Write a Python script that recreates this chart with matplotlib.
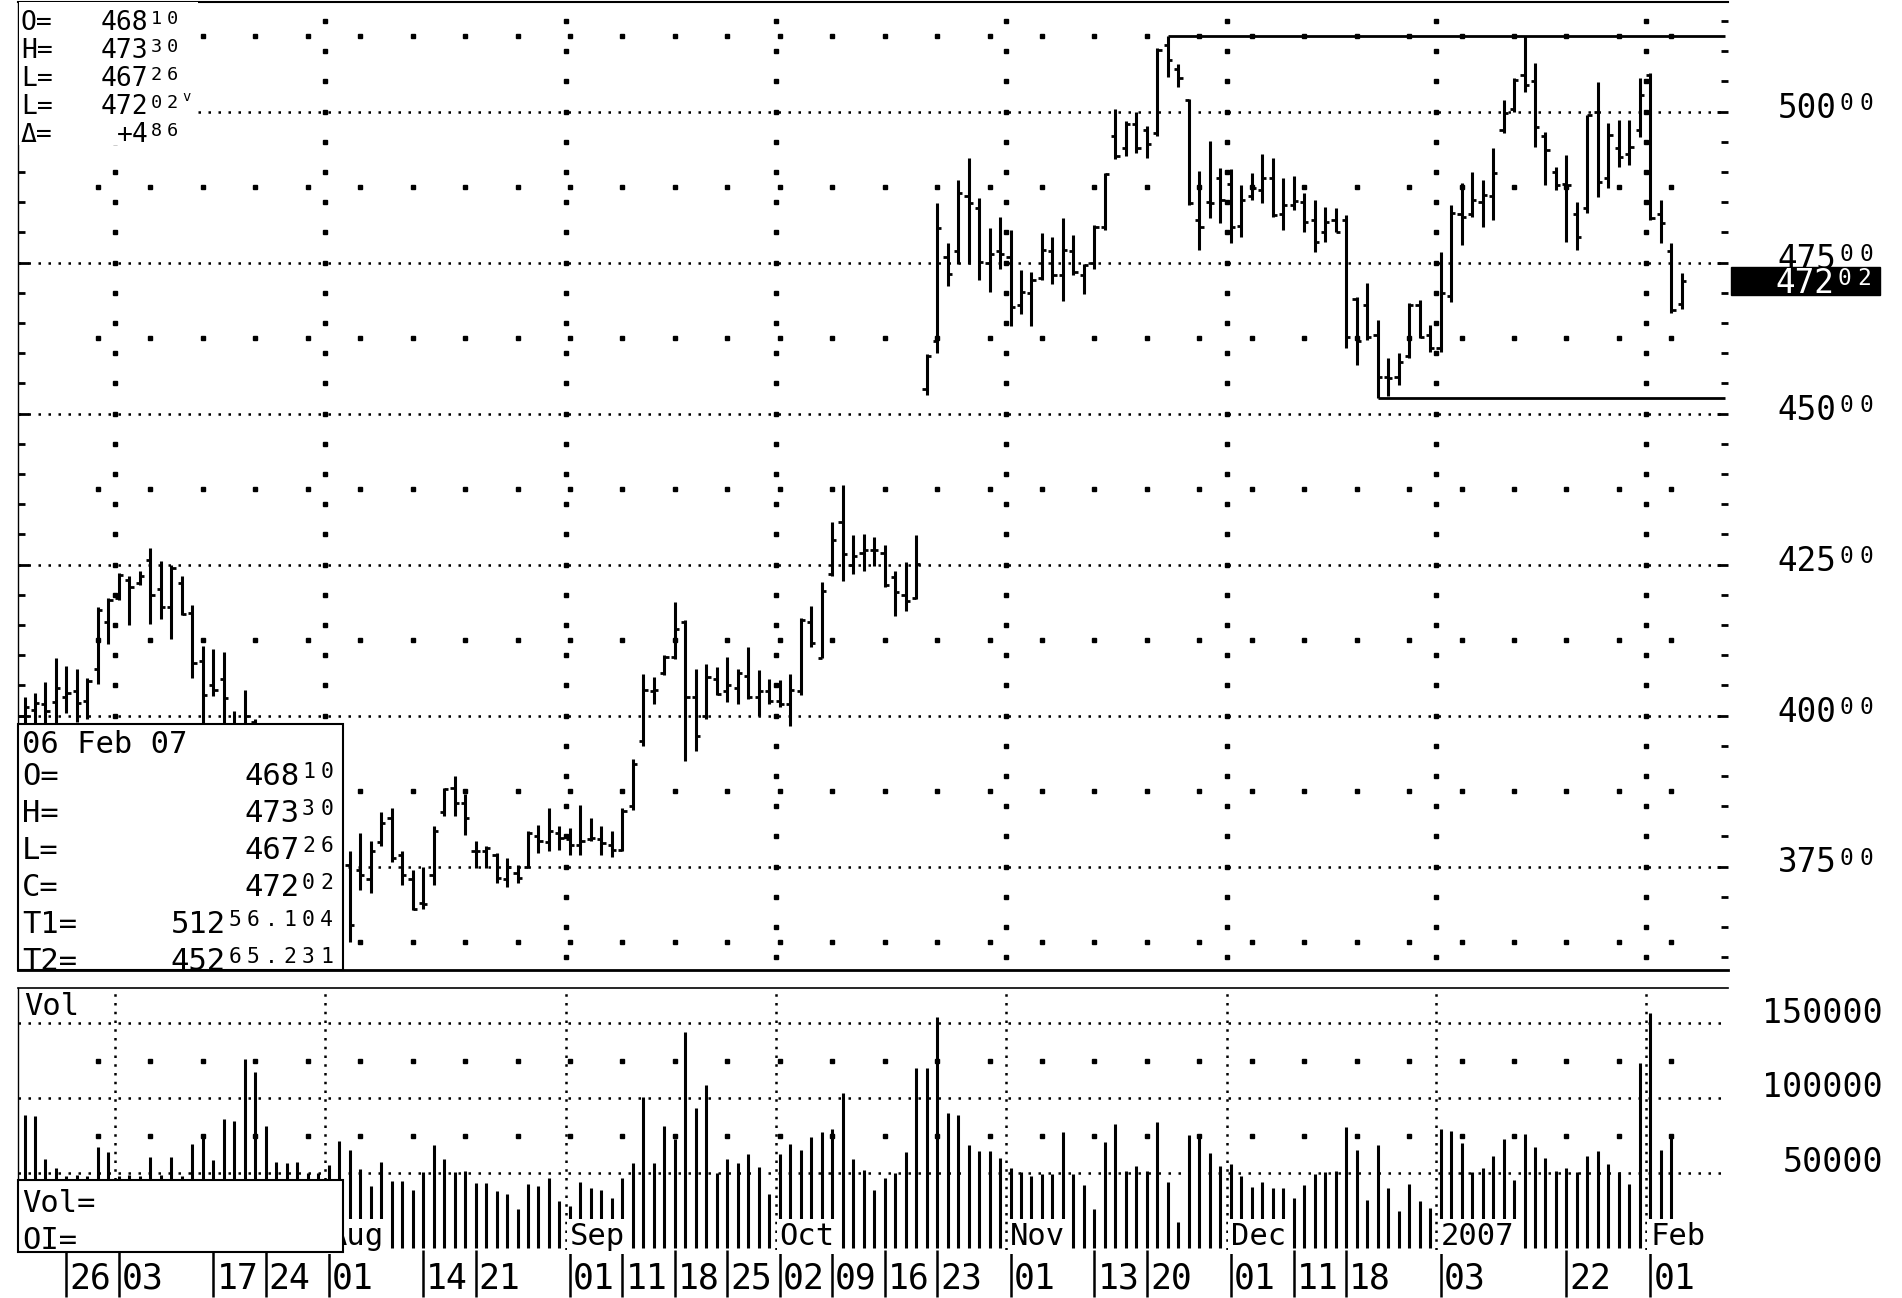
import numpy as np
import pandas as pd
import matplotlib
matplotlib.use("Agg")
import matplotlib.pyplot as plt
from matplotlib.patches import Rectangle
from matplotlib.ticker import MultipleLocator
from matplotlib.transforms import IdentityTransform

W, H = 1902, 1298
MONO = "DejaVu Sans Mono"
plt.rcParams["font.family"] = [MONO, "DejaVu Sans"]

# trading calendar of the chart (Jun 20 2006 .. Feb 6 2007)
holidays = ["2006-07-04", "2006-09-04", "2006-11-23", "2006-12-25",
            "2007-01-01", "2007-01-02", "2007-01-15"]

opens = [40000, 40100, 40200, 40230,
         40300, 40400, 40250, 40767, 41550, 41950, 42250, 42200, 42584, 42100,
         41800, 42200, 41700, 40900, 40500, 40600, 39700, 39700, 39900, 39400,
         39100, 38800, 38400, 38500, 38300, 37900, 37700, 37528, 37450, 37300,
         37900, 38300, 37700, 37300, 36900, 37361, 38400, 38800, 38550, 37750,
         37750, 37700, 37300, 37400, 37500, 38000, 37900, 38050, 37950, 37850,
         37950, 37950, 37850, 37778, 38500, 39583, 40400, 40700, 40972, 41550,
         40300, 40000, 40600, 40400, 40450, 40650, 40300, 40400, 40250, 40200,
         40400, 41550, 40949, 42350, 43209, 42500, 42700, 42750, 42700, 42300,
         42000, 41950, 45400, 46203, 47600, 47700, 48600, 48400, 47500, 47700,
         47600, 46800, 47000, 47250, 47700, 47300, 47700, 47300, 47500, 48096,
         49600, 49400, 49800, 49700, 49650, 51100, 50700, 50200, 48200, 48500,
         48900, 48800, 48100, 48600, 48700, 48900, 48300, 48450, 48500, 48200,
         48000, 48200, 48200, 46900, 46800, 46300, 45600, 45600, 45950, 46800,
         46300, 46081, 46950, 48300, 48300, 48500, 48600, 49700, 50050, 50600,
         50500, 49600, 49000, 48800, 48300, 48400, 50000, 48900, 49400, 49300,
         49700, 50600, 48300, 47700, 46810]

highs = [40300, 40376, 40555, 40946,
         40823, 40778, 40627, 41801, 41941, 42360, 42304, 42388, 42780, 42556,
         42500, 42304, 41829, 41158, 41102, 41058, 40070, 40432, 39950, 39600,
         39300, 39000, 38700, 38800, 38500, 38200, 37950, 37750, 38055, 37917,
         38405, 38472, 37761, 37444, 37500, 38167, 38806, 39000, 38694, 37917,
         37833, 37722, 37639, 37528, 38083, 38194, 38472, 38167, 38139, 38528,
         38305, 38167, 38083, 38472, 39278, 40694, 40639, 41000, 41889, 41583,
         40778, 40861, 40805, 40972, 40778, 41139, 40750, 40611, 40583, 40694,
         41611, 41814, 42204, 43209, 43822, 42985, 43013, 42957, 42818, 42400,
         42539, 42985, 45980, 48486, 47817, 48875, 49237, 48569, 48068, 48263,
         48040, 47372, 47344, 47984, 47929, 48235, 47957, 47483, 48124, 48987,
         50045, 49850, 49989, 49766, 51047, 51256, 50796, 50212, 49014, 49516,
         49070, 49042, 48792, 48987, 49293, 49237, 48903, 48931, 48648, 48537,
         48427, 48399, 48289, 46936, 47157, 46550, 45915, 45998, 46826, 46881,
         46467, 47682, 48454, 48813, 49006, 48868, 49404, 50193, 50552, 51256,
         50800, 49669, 49089, 49282, 48510, 49945, 50497, 49807, 49862, 49862,
         50552, 50635, 48537, 47820, 47330]

lows = [39700, 39800, 39750, 39850,
        40040, 39900, 39950, 40516, 41186, 41913, 41505, 42165, 41522, 41606,
        41270, 41661, 40627, 39700, 40320, 39600, 39300, 39400, 39300, 38900,
        38600, 38200, 37900, 38100, 37700, 37500, 37300, 36250, 37111, 37056,
        37833, 37583, 37195, 36778, 36806, 37194, 38333, 38333, 38028, 37472,
        37472, 37222, 37167, 37222, 37472, 37722, 37750, 37778, 37694, 37694,
        37917, 37694, 37667, 37750, 38444, 39500, 40194, 40667, 40944, 39250,
        39417, 39944, 40333, 40222, 40194, 40278, 40000, 40194, 40139, 39833,
        40333, 41144, 40949, 42316, 42232, 42344, 42400, 42483, 42121, 41646,
        41730, 41925, 45312, 46008, 47121, 47483, 47483, 47205, 47010, 47400,
        46453, 46648, 46453, 47205, 47149, 46871, 47288, 46982, 47400, 48040,
        49209, 49265, 49321, 49237, 49599, 50574, 50406, 48458, 47706, 48235,
        48152, 47817, 47929, 48541, 48486, 48263, 48040, 48374, 48013, 47682,
        47847, 48013, 46081, 45805, 46219, 45265, 45290, 45474, 45915, 46246,
        46026, 46026, 46854, 47792, 48261, 48096, 48206, 49641, 50000, 50331,
        49420, 48786, 48703, 47847, 47709, 48316, 48592, 48730, 49089, 49117,
        49586, 48206, 47820, 46660, 46726]

closes = [40150, 40208, 40068, 40454,
          40376, 40208, 40571, 41745, 41913, 42332, 42137, 42304, 41997, 41801,
          42444, 41689, 40879, 40348, 40432, 40292, 39500, 40000, 39400, 39100,
          38800, 38400, 38500, 38300, 37900, 37700, 37600, 36528, 37361, 37750,
          38222, 37639, 37361, 36806, 36889, 38083, 38778, 38555, 38305, 37750,
          37806, 37305, 37500, 37305, 38055, 37917, 38083, 37972, 37861, 37917,
          37972, 37889, 37778, 38417, 39194, 40417, 40417, 40972, 41434, 40307,
          39665, 40631, 40350, 40500, 40700, 40300, 40400, 40250, 40200, 40420,
          41580, 41200, 42070, 42900, 42680, 42650, 42734, 42734, 42160, 42044,
          41900, 42507, 45952, 48068, 47316, 48653, 48486, 47511, 47650, 47650,
          46759, 47010, 47205, 47706, 47288, 47706, 47344, 47455, 48096, 48959,
          49260, 49800, 49400, 49460, 51020, 50851, 50550, 48486, 48090, 48486,
          48541, 48096, 48541, 48736, 48903, 48291, 48458, 48514, 48180, 47847,
          48180, 48013, 46274, 46200, 46274, 45610, 45584, 45860, 46798, 46274,
          46081, 46992, 48316, 48261, 48537, 48620, 48979, 49972, 50524, 50441,
          49751, 49365, 48784, 48784, 47930, 49945, 48842, 49613, 49255, 49420,
          50276, 48234, 48150, 46716, 47202]

volumes = [89100, 88000, 59800, 53300,
           48000, 48500, 48000, 67400, 64100, 48000, 48500, 48000, 60900, 48500,
           60900, 48000, 69600, 76100, 58700, 85900, 84800, 126100, 117400, 81500,
           57600, 56500, 57600, 50000, 50000, 55400, 71700, 65200, 52600, 41300,
           57600, 44600, 44600, 39100, 51100, 68500, 59800, 51100, 51700, 43500,
           43500, 38000, 35900, 26100, 43000, 41300, 46700, 31500, 28300, 43900,
           40200, 39100, 33700, 46700, 56500, 101100, 56500, 81500, 72800, 144600,
           93500, 109100, 50000, 59800, 56500, 63000, 54300, 35900, 63000, 69600,
           65200, 73900, 77200, 79400, 103300, 59800, 52200, 39100, 46700, 50000,
           64100, 120000, 120000, 154400, 90200, 89200, 68800, 64500, 64500, 60200,
           53750, 50500, 48400, 49500, 49500, 77400, 49500, 41900, 25800, 71000,
           82800, 51600, 54800, 51600, 83900, 44100, 17200, 75300, 76300, 63400,
           54800, 55900, 48400, 40900, 44100, 39800, 39800, 33300, 41900, 49500,
           50500, 51600, 80600, 65600, 32300, 68800, 39800, 24700, 43000, 31200,
           26900, 79600, 78500, 69900, 50500, 53750, 61300, 73100, 45150, 76300,
           67700, 60200, 51600, 53750, 50500, 61300, 64500, 55900, 50500, 43000,
           123600, 157000, 65600, 74200, 0]

label_days = ["2006-06-26", "2006-07-03", "2006-07-17", "2006-07-24",
              "2006-08-01", "2006-08-14", "2006-08-21", "2006-09-01",
              "2006-09-11", "2006-09-18", "2006-09-25", "2006-10-02",
              "2006-10-09", "2006-10-16", "2006-10-23", "2006-11-01",
              "2006-11-13", "2006-11-20", "2006-12-01", "2006-12-11",
              "2006-12-18", "2007-01-03", "2007-01-22", "2007-02-01"]
month_names = {"2006-08": "Aug", "2006-09": "Sep", "2006-10": "Oct",
               "2006-11": "Nov", "2006-12": "Dec", "2007-01": "2007",
               "2007-02": "Feb"}

price_levels = [50000, 47500, 45000, 42500, 40000, 37500]
vol_levels = [50000, 100000, 150000]
last_price = "47202"
T1, T1_from = 51256.104, "2006-11-22"
T2, T2_from = 45265.231, "2006-12-21"

info_rows = [("O=", "46810"), ("H=", "47330"), ("L=", "46726"),
             ("L=", "47202"), ("\u0394=", "+486")]
box_rows = [("O=", "46810"), ("H=", "47330"), ("L=", "46726"),
            ("C=", "47202"), ("T1=", "51256.104"), ("T2=", "45265.231")]

days = pd.bdate_range("2006-06-20", "2007-02-06")
days = days[~days.isin(pd.to_datetime(holidays))]
x = np.arange(len(days)) - days.get_loc(pd.Timestamp("2006-06-26"))
opens, highs, lows, closes = map(np.array, (opens, highs, lows, closes))
volumes = np.array(volumes)
assert len(opens) == len(highs) == len(lows) == len(closes) == len(volumes) == len(days)

fig = plt.figure(figsize=(W / 100, H / 100), dpi=100)


def frac(x0, y0, x1, y1):
    # pixel box (y from the top) -> figure fraction rect
    return [x0 / W, 1 - y1 / H, (x1 - x0) / W, (y1 - y0) / H]


ax = fig.add_axes(frac(18, 2, 1728, 970))
axv = fig.add_axes(frac(18, 988, 1728, 1250))
for a in (ax, axv):
    a.set_xlim(-4.62, 158.4)
    a.set_facecolor("white")
ax.set_ylim(35788, 51815)
axv.set_ylim(-1300, 173700)

# spines / ticks
ax.spines["right"].set_visible(False)
ax.spines["top"].set_linewidth(1.5)
ax.spines["bottom"].set_linewidth(2)
ax.spines["left"].set_linewidth(1)
ax.set_xticks([])
ax.yaxis.set_major_locator(MultipleLocator(2500))
ax.yaxis.set_minor_locator(MultipleLocator(500))
ax.tick_params(axis="y", which="both", left=True, right=True,
               labelleft=False, labelright=False, direction="in", width=2)
ax.tick_params(axis="y", which="major", length=8)
ax.tick_params(axis="y", which="minor", length=5)

for s in ("right", "bottom"):
    axv.spines[s].set_visible(False)
axv.spines["top"].set_linewidth(1.2)
axv.spines["left"].set_linewidth(1)
axv.set_yticks([])

# grid: dotted levels, month columns, sparse dot rows
dots = (0, (1, 3))
month_pos = []
for key, grp in pd.Series(x, index=days).groupby(days.strftime("%Y-%m")):
    if key != "2006-06":
        month_pos.append((key, grp.iloc[0] - 0.4))

for v in np.arange(37500, 51000, 2500):
    ax.axhline(v, color="black", lw=1.8, ls=dots, zorder=1)
col_levels = np.arange(36000, 51801, 500)
row_x = np.arange(3, 158, 5)
for key, m in month_pos:
    ax.plot(np.full(len(col_levels), m), col_levels, ls="none", marker="s",
            ms=2.2, color="black", zorder=1)
    axv.axvline(m, color="black", lw=1.8, ls=(0, (1, 2.5)), zorder=1)
for lvl in np.arange(36250, 51300, 2500):
    ax.plot(row_x, np.full(len(row_x), lvl), ls="none", marker="s", ms=2.2,
            color="black", zorder=1)
for v in vol_levels:
    axv.axhline(v, color="black", lw=1.8, ls=dots, zorder=1)
for lvl in (75000, 125000):
    axv.plot(row_x, np.full(len(row_x), lvl), ls="none", marker="s", ms=2.2,
             color="black", zorder=1)

# OHLC bars
ax.vlines(x, lows, highs, color="black", lw=2.2, zorder=3)
ax.hlines(opens, x - 0.4, x, color="black", lw=2, zorder=3)
ax.hlines(closes, x, x + 0.4, color="black", lw=2, zorder=3)
x_end = ax.get_xlim()[1] - 0.3
ax.hlines(T1, x[days.get_loc(pd.Timestamp(T1_from))], x_end, color="black", lw=2, zorder=3)
ax.hlines(T2, x[days.get_loc(pd.Timestamp(T2_from))], x_end, color="black", lw=2, zorder=3)

# volume bars
axv.vlines(x, 0, volumes, color="black", lw=2.2, zorder=3)

# date ticks under the volume panel
lab_x = [x[days.get_loc(pd.Timestamp(d))] for d in label_days]
axv.set_xticks(lab_x)
axv.tick_params(axis="x", direction="out", length=34, width=1.8,
                labelbottom=False)


def px_text(px, py, s, size, **kw):
    return fig.text(px, H - py, s, fontsize=size, transform=IdentityTransform(), **kw)


def plain(px, ymid, s, size, ha="left", **kw):
    cap = 0.729 * size * 100 / 72
    return px_text(px, ymid + cap / 2, s, size, ha=ha, va="baseline", **kw)


def chart_number(x_right, ymid, text, n_small, size, color="black", z=12):
    """Number with its last digits printed small and raised."""
    em = size * 100 / 72
    cell, cap = 0.602 * em, 0.729 * em
    x0 = x_right - len(text) * cell
    big = text[:len(text) - n_small]
    px_text(x0, ymid + cap / 2, big, size, ha="left", va="baseline",
            color=color, zorder=z)
    ss = size * 0.7
    for k, ch in enumerate(text[len(big):]):
        px_text(x0 + (len(big) + k + 0.5) * cell, ymid - cap / 2 + 0.729 * ss * 100 / 72,
                ch, ss, ha="center", va="baseline", color=color, zorder=z)


def ypix(a, v):
    return H - a.transData.transform((0, v))[1]


def xpix(a, v):
    return a.transData.transform((v, 0))[0]


for d, xv in zip(label_days, lab_x):
    plain(xpix(axv, xv) + 3, 1276, d[-2:], 25)

for key, m in month_pos:
    if key in month_names:
        plain(xpix(axv, m) + 4, 1234, month_names[key], 22, zorder=9,
              bbox=dict(fc="white", ec="none", pad=2))

# right-hand scales
for v in price_levels:
    chart_number(1876, ypix(ax, v) - 6, f"{v}", 2, 23.5)
for v in vol_levels:
    plain(1883, ypix(axv, v) - 13, f"{v}", 24, ha="right")

yl = ypix(ax, 47202)
fig.add_artist(Rectangle((1731, H - yl - 14), 149, 28, transform=IdentityTransform(),
                         fc="black", ec="black", zorder=10))
chart_number(1874, yl, last_price, 2, 23.5, color="white", z=12)

# top-left readout
fig.add_artist(Rectangle((19, H - 145), 179, 143, transform=IdentityTransform(),
                         fc="white", ec="none", zorder=10))
for k, (lab, val) in enumerate(info_rows):
    ym = 20 + k * 28
    plain(21, ym, lab, 19, zorder=12)
    chart_number(180, ym, val, 2, 19)
plain(182, 20 + 3 * 28 - 8, "v", 10, zorder=12)

# lower-left data box
fig.add_artist(Rectangle((18, H - 970), 325, 246, transform=IdentityTransform(),
                         fc="white", ec="black", lw=1.5, zorder=10))
plain(22, 742, "06 Feb 07", 22, zorder=12)
for k, (lab, val) in enumerate(box_rows):
    ym = 774 + k * 37
    plain(22, ym, lab, 22, zorder=12)
    chart_number(336, ym, val, len(val) - 3, 22)

# volume readout
plain(24, 1004, "Vol", 22, zorder=12)
fig.add_artist(Rectangle((18, H - 1252), 325, 72, transform=IdentityTransform(),
                         fc="white", ec="black", lw=1.5, zorder=10))
plain(22, 1201, "Vol=", 22, zorder=12)
plain(22, 1238, "OI=", 22, zorder=12)

fig.savefig("out.png", dpi=100, facecolor="white")
